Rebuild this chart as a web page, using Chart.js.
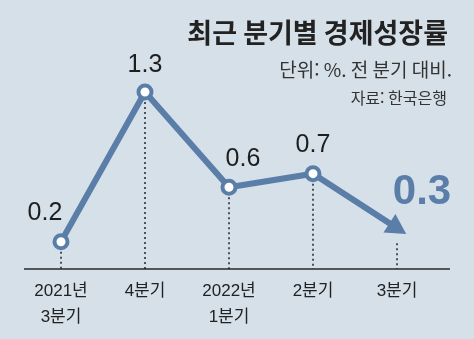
<!DOCTYPE html>
<html lang="ko">
<head>
<meta charset="utf-8">
<title>최근 분기별 경제성장률</title>
<script src="https://cdn.jsdelivr.net/npm/chart.js@4"></script>
<style>
  html, body { margin: 0; padding: 0; background: #d5e0e9; }
  canvas { display: block; }
</style>
</head>
<body>
<canvas id="growthChart" width="474" height="339"></canvas>
<script>
// 분기 라벨과 성장률 (%)
const quarters = [['2021년', '3분기'], '4분기', ['2022년', '1분기'], '2분기', '3분기'];
const growthRates = [0.2, 1.3, 0.6, 0.7, 0.3];

const titleText = '최근 분기별 경제성장률';
const unitText = '단위: %. 전 분기 대비.';
const sourceText = '자료: 한국은행';

const BLUE = '#5a7ea8';
const FONT = "'Liberation Sans', 'Noto Sans CJK KR', sans-serif";
const KFONT = "'Noto Sans CJK KR', sans-serif";

// 배경, 제목, 기준선, 점선
const decorPlugin = {
  id: 'decor',
  beforeDraw(chart) {
    const { ctx, width, height } = chart;
    ctx.save();
    ctx.fillStyle = '#d5e0e9';
    ctx.fillRect(0, 0, width, height);

    ctx.fillStyle = '#222';
    ctx.textAlign = 'right';
    ctx.textBaseline = 'middle';
    ctx.font = 'bold 27px ' + KFONT;
    ctx.fillText(titleText, 448, 33);
    ctx.fillStyle = '#333';
    ctx.font = '19px ' + KFONT;
    ctx.fillText(unitText, 452, 70);
    ctx.font = '16px ' + KFONT;
    ctx.fillText(sourceText, 447, 98);
    ctx.restore();
  },
  beforeDatasetsDraw(chart) {
    const { ctx, chartArea } = chart;
    const pts = chart.getDatasetMeta(0).data;
    const last = pts.length - 1;
    ctx.save();
    // 기준선
    ctx.strokeStyle = '#2a2a2a';
    ctx.lineWidth = 1.5;
    ctx.beginPath();
    ctx.moveTo(chartArea.left - 37, chartArea.bottom);
    ctx.lineTo(chartArea.right + 53, chartArea.bottom);
    ctx.stroke();
    // 각 점에서 내려오는 점선
    ctx.strokeStyle = '#222';
    ctx.setLineDash([2, 3]);
    pts.forEach((p, i) => {
      ctx.beginPath();
      ctx.moveTo(p.x, i === last ? p.y + 15 : p.y);
      ctx.lineTo(p.x, chartArea.bottom);
      ctx.stroke();
    });
    ctx.restore();
  },
  afterDatasetsDraw(chart) {
    const { ctx } = chart;
    const pts = chart.getDatasetMeta(0).data;
    const last = pts.length - 1;
    const a = pts[last - 1], b = pts[last];
    const len = Math.hypot(b.x - a.x, b.y - a.y);
    const ux = (b.x - a.x) / len, uy = (b.y - a.y) / len;
    // 마지막 구간 끝의 화살촉
    ctx.save();
    ctx.fillStyle = BLUE;
    ctx.beginPath();
    ctx.moveTo(b.x + ux * 11, b.y + uy * 11);
    ctx.lineTo(b.x - ux * 9 - uy * 11, b.y - uy * 9 + ux * 11);
    ctx.lineTo(b.x - ux * 9 + uy * 11, b.y - uy * 9 - ux * 11);
    ctx.closePath();
    ctx.fill();

    // 값 라벨
    const offsets = [[-16, -29], [0, -27], [14, -28], [0, -29], [25, -36]];
    ctx.textAlign = 'center';
    ctx.textBaseline = 'middle';
    pts.forEach((p, i) => {
      const [dx, dy] = offsets[i];
      if (i === last) {
        ctx.fillStyle = BLUE;
        ctx.font = 'bold 42px ' + FONT;
      } else {
        ctx.fillStyle = '#1e1e1e';
        ctx.font = '25px ' + FONT;
      }
      ctx.fillText(growthRates[i].toFixed(1), p.x + dx, p.y + dy);
    });
    ctx.restore();
  }
};

new Chart(document.getElementById('growthChart'), {
  type: 'line',
  data: {
    labels: quarters,
    datasets: [{
      data: growthRates,
      borderColor: BLUE,
      borderWidth: 6,
      tension: 0,
      pointRadius: [6.5, 6.5, 6.5, 6.5, 0],
      pointBorderWidth: 4,
      pointBackgroundColor: '#ffffff',
      pointBorderColor: BLUE,
      clip: false
    }]
  },
  options: {
    responsive: false,
    animation: false,
    layout: { padding: { left: 61, right: 77, top: 92, bottom: 0 } },
    plugins: { legend: { display: false }, tooltip: { enabled: false } },
    scales: {
      x: {
        offset: false,
        grid: { display: false, drawTicks: false },
        border: { display: false },
        ticks: {
          color: '#222',
          font: { family: FONT, size: 17, lineHeight: 1.53 },
          padding: 9,
          maxRotation: 0,
          autoSkip: false
        }
      },
      y: { display: false, min: 0, max: 1.3 }
    }
  },
  plugins: [decorPlugin]
});
</script>
</body>
</html>
